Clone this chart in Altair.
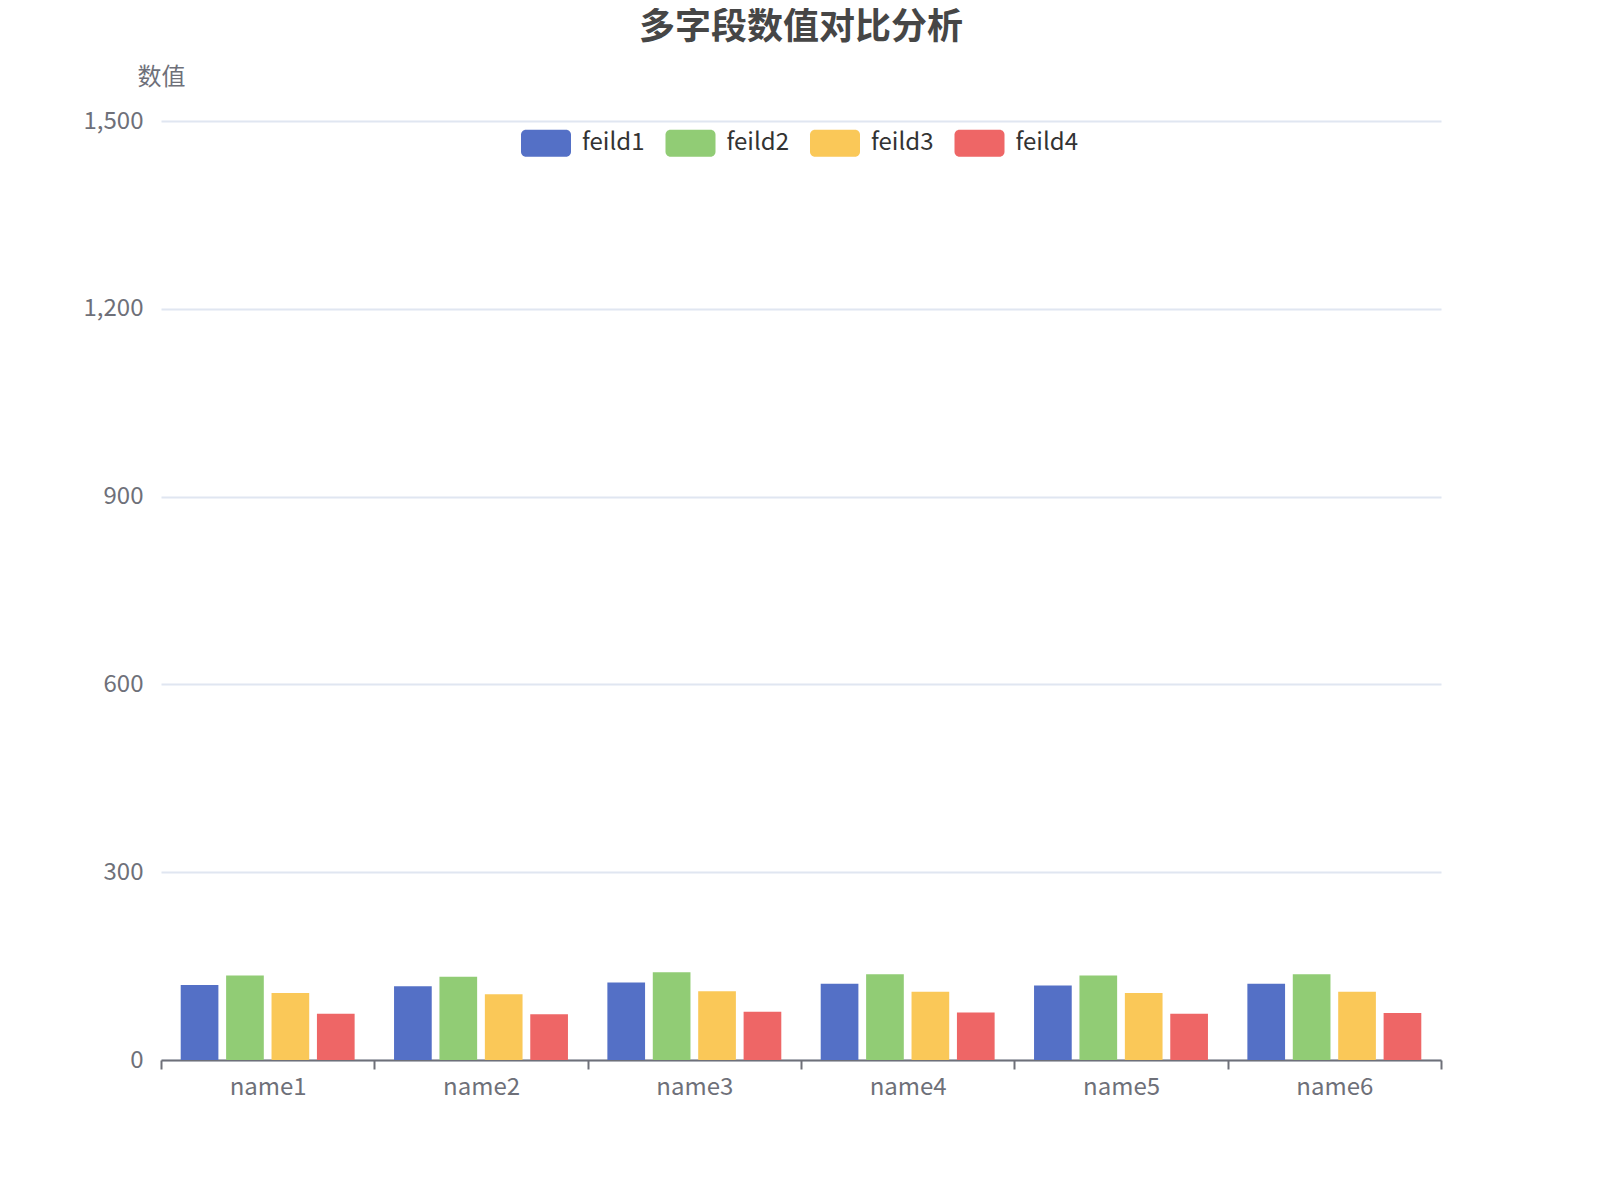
import altair as alt
import pandas as pd

categories = ["name1", "name2", "name3", "name4", "name5", "name6"]
series_names = ["feild1", "feild2", "feild3", "feild4"]
feild1 = [120, 118, 124, 122, 119, 122]
feild2 = [135, 133, 140, 137, 135, 137]
feild3 = [107, 105, 110, 109, 107, 109]
feild4 = [74, 73, 77, 76, 74, 75]
colors = ["#5470c6", "#91cc75", "#fac858", "#ee6666"]
y_ticks = [0, 300, 600, 900, 1200, 1500]

rows = []
for s, vals in zip(series_names, [feild1, feild2, feild3, feild4]):
    for c, v in zip(categories, vals):
        rows.append({"name": c, "series": s, "value": v})
df = pd.DataFrame(rows)

FONT = "Noto Sans CJK SC"
TXT = "#6e7079"
rounded_rect = ("M-0.8,-0.54H0.8A0.2,0.2,0,0,1,1,-0.34V0.34A0.2,0.2,0,0,1,0.8,0.54"
                "H-0.8A0.2,0.2,0,0,1,-1,0.34V-0.34A0.2,0.2,0,0,1,-0.8,-0.54Z")

chart = alt.Chart(df).mark_bar().encode(
    x=alt.X("name:N", sort=categories,
            scale=alt.Scale(paddingInner=0, paddingOuter=0),
            axis=alt.Axis(title=None, labelAngle=0, labelFontSize=24, labelColor=TXT,
                          labelFont=FONT, labelPadding=6,
                          domainColor=TXT, domainWidth=2, tickColor=TXT, tickWidth=2,
                          tickSize=9, tickBand="extent", grid=False)),
    xOffset=alt.XOffset("series:N", sort=series_names,
                        scale=alt.Scale(paddingInner=0.17, paddingOuter=0.434)),
    y=alt.Y("value:Q", scale=alt.Scale(domain=[0, 1500], nice=False),
            axis=alt.Axis(values=y_ticks, title="数值", titleAngle=0, titleFontSize=24,
                          titleFontWeight="normal", titleColor=TXT, titleFont=FONT,
                          titleX=0, titleY=-44, titleAlign="center", titleBaseline="middle",
                          labelFontSize=24, labelColor=TXT, labelFont=FONT, labelPadding=18,
                          domain=False, ticks=False, gridColor="#e0e6f1", gridWidth=2,
                          format=",.0f")),
    color=alt.Color("series:N", sort=series_names,
                    scale=alt.Scale(domain=series_names, range=colors),
                    legend=alt.Legend(title=None, orient="none", direction="horizontal",
                                      columns=4, legendX=360, legendY=-3,
                                      symbolType=rounded_rect, symbolSize=2500,
                                      symbolStrokeWidth=0, symbolOpacity=1,
                                      labelFontSize=24, labelColor="#333333", labelFont=FONT,
                                      labelOffset=11, columnPadding=20.5)),
).properties(
    width=1280,
    height=939,
    title=alt.TitleParams("多字段数值对比分析", fontSize=36, fontWeight="bold",
                          color="#464646", font=FONT, anchor="middle", offset=18),
    autosize=alt.AutoSizeParams(type="none"),
    padding={"left": 153, "top": 113, "right": 150, "bottom": 100},
).configure_view(stroke=None)

chart.save("out.html", embed_options={"renderer": "svg", "actions": False})
